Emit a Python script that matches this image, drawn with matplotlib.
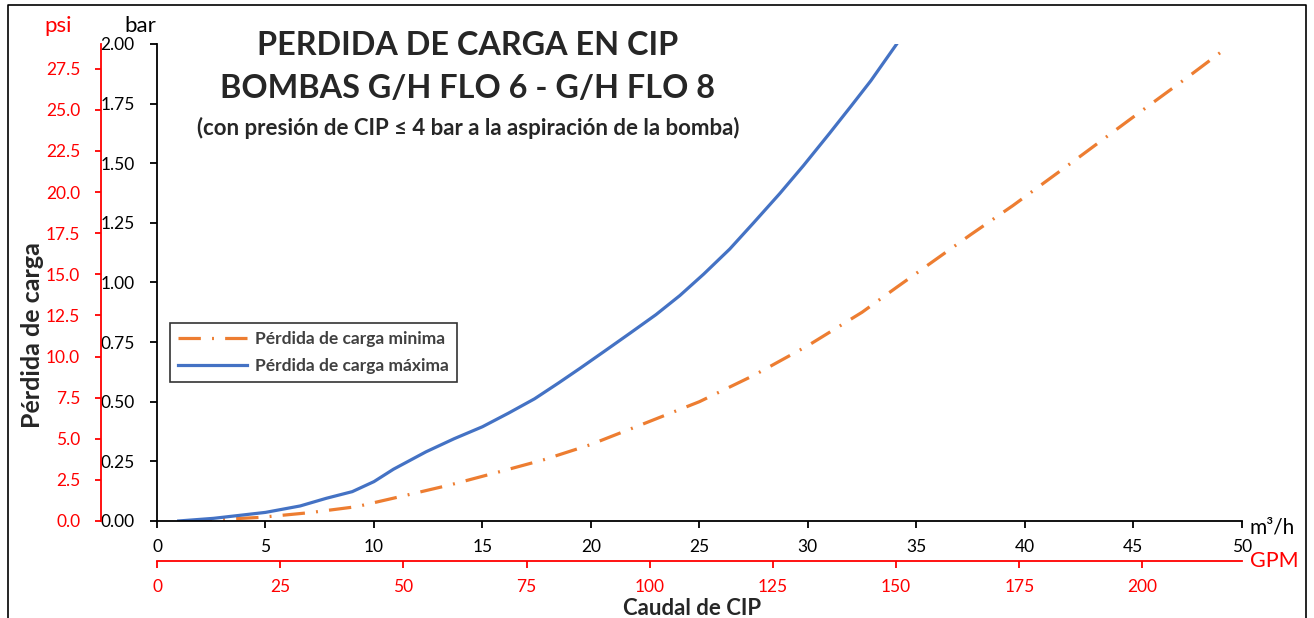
import numpy as np
import matplotlib.pyplot as plt
from matplotlib.lines import Line2D

plt.rcParams['font.family'] = ['Lato', 'DejaVu Sans']

# Caudal (m3/h) y pérdida de carga (bar)
caudal_max = [1, 2.6, 5, 6.6, 7.8, 9, 10, 10.9, 12.4, 13.7, 15, 16.2, 17.4, 18.5, 19.5, 20.6, 21.8, 23,
              24.1, 25.2, 26.4, 27.5, 28.7, 29.8, 31, 32, 32.9, 34.1]
perdida_max = [0, 0.011, 0.036, 0.063, 0.095, 0.123, 0.165, 0.217, 0.29, 0.345, 0.395, 0.452,
               0.512, 0.578, 0.64, 0.71, 0.787, 0.865, 0.945, 1.035, 1.14, 1.25, 1.372, 1.49, 1.625,
               1.74, 1.845, 2.0]

caudal_min = [1.5, 4.75, 7.05, 9.2, 11.35, 13.5, 15.65, 17.8, 19.95, 22.5, 25, 27.5, 30,
              32.5, 34.1, 37.5, 39.45, 42.5, 44.8, 47.5, 49.4]
perdida_min = [0, 0.015, 0.035, 0.06, 0.105, 0.151, 0.203, 0.256, 0.319, 0.41, 0.50, 0.61, 0.735,
               0.875, 0.98, 1.2, 1.322, 1.525, 1.68, 1.86, 1.99]

bar_ticks = [0, 0.25, 0.5, 0.75, 1.0, 1.25, 1.5, 1.75, 2.0]
psi_ticks = [0, 2.5, 5, 7.5, 10, 12.5, 15, 17.5, 20, 22.5, 25, 27.5]
m3h_ticks = [0, 5, 10, 15, 20, 25, 30, 35, 40, 45, 50]
gpm_ticks = [0, 25, 50, 75, 100, 125, 150, 175, 200]

BAR_TO_PSI = 14.5038
M3H_TO_GPM = 4.40287
RED = '#FF0000'
TXT = '#262626'

fig = plt.figure(figsize=(13.14, 6.18), dpi=100)
ax = fig.add_axes([0.1195, 0.157, 0.8255, 0.772])

ax.plot(caudal_min, perdida_min, color='#ED7D31', lw=2.3,
        linestyle=(0, (7, 3.5, 0.6, 3.5)), label='Pérdida de carga minima')
ax.plot(caudal_max, perdida_max, color='#4472C4', lw=2.3, label='Pérdida de carga máxima')

ax.set_xlim(0, 50)
ax.set_ylim(0, 2)
ax.set_xticks(m3h_ticks)
ax.set_yticks(bar_ticks)
ax.set_yticklabels([f'{v:.2f}' for v in bar_ticks])
for s in ['top', 'right']:
    ax.spines[s].set_visible(False)
for s in ['left', 'bottom']:
    ax.spines[s].set_linewidth(1.3)
ax.tick_params(axis='both', direction='out', length=5, width=1.3, labelsize=12.5)
ax.tick_params(axis='y', pad=11)
ax.tick_params(axis='x', pad=8)

# eje psi
ax2 = ax.twinx()
ax2.set_ylim(0, 2 * BAR_TO_PSI)
ax2.yaxis.tick_left()
ax2.set_yticks(psi_ticks)
ax2.set_yticklabels([f'{v:.1f}' for v in psi_ticks])
for s in ['top', 'right', 'bottom']:
    ax2.spines[s].set_visible(False)
ax2.spines['left'].set_position(('outward', 40.3))
ax2.spines['left'].set_color(RED)
ax2.spines['left'].set_linewidth(1.3)
ax2.tick_params(axis='y', colors=RED, direction='out', length=4, width=1.3, labelsize=12.5, pad=11)

# eje GPM
ax3 = ax.twiny()
ax3.set_xlim(0, 50 * M3H_TO_GPM)
ax3.xaxis.tick_bottom()
ax3.set_xticks(gpm_ticks)
for s in ['top', 'right', 'left']:
    ax3.spines[s].set_visible(False)
ax3.spines['bottom'].set_position(('outward', 28.8))
ax3.spines['bottom'].set_color(RED)
ax3.spines['bottom'].set_linewidth(1.3)
ax3.tick_params(axis='x', colors=RED, direction='out', length=5, width=1.3, labelsize=12.5, pad=8)

leg = ax.legend(loc='upper left', bbox_to_anchor=(0.012, 0.415), borderaxespad=0,
                frameon=True, fancybox=False, edgecolor='black', handlelength=4.0,
                handletextpad=0.45, prop={'weight': 'bold', 'size': 12.5},
                borderpad=0.45, labelspacing=0.65)
leg.get_frame().set_linewidth(1.2)
for t in leg.get_texts():
    t.set_color('#404040')

fig.text(0.356, 0.926, 'PERDIDA DE CARGA EN CIP', ha='center', va='center',
         fontsize=23.3, fontweight='bold', color=TXT)
fig.text(0.356, 0.857, 'BOMBAS G/H FLO 6 - G/H FLO 8', ha='center', va='center',
         fontsize=23.3, fontweight='bold', color=TXT)
fig.text(0.356, 0.793, '(con presión de CIP ≤ 4 bar a la aspiración de la bomba)',
         ha='center', va='center', fontsize=16, fontweight='bold', color=TXT)

fig.text(0.0445, 0.958, 'psi', ha='center', va='center', fontsize=16, color=RED)
fig.text(0.1065, 0.958, 'bar', ha='center', va='center', fontsize=16, color='black')
fig.text(0.951, 0.147, 'm³/h', ha='left', va='center', fontsize=15, color='black')
fig.text(0.951, 0.092, 'GPM', ha='left', va='center', fontsize=15.5, color=RED)
fig.text(0.025, 0.458, 'Pérdida de carga', rotation=90, ha='center', va='center',
         fontsize=18, fontweight='bold', color=TXT)
fig.text(0.527, 0.016, 'Caudal de CIP', ha='center', va='center',
         fontsize=16, fontweight='bold', color=TXT)

# marco
fig.add_artist(Line2D([0.006, 0.006, 0.994, 0.994], [0, 0.992, 0.992, 0],
                      transform=fig.transFigure, color='black', lw=1.2))

fig.savefig('out.png', dpi=100)
